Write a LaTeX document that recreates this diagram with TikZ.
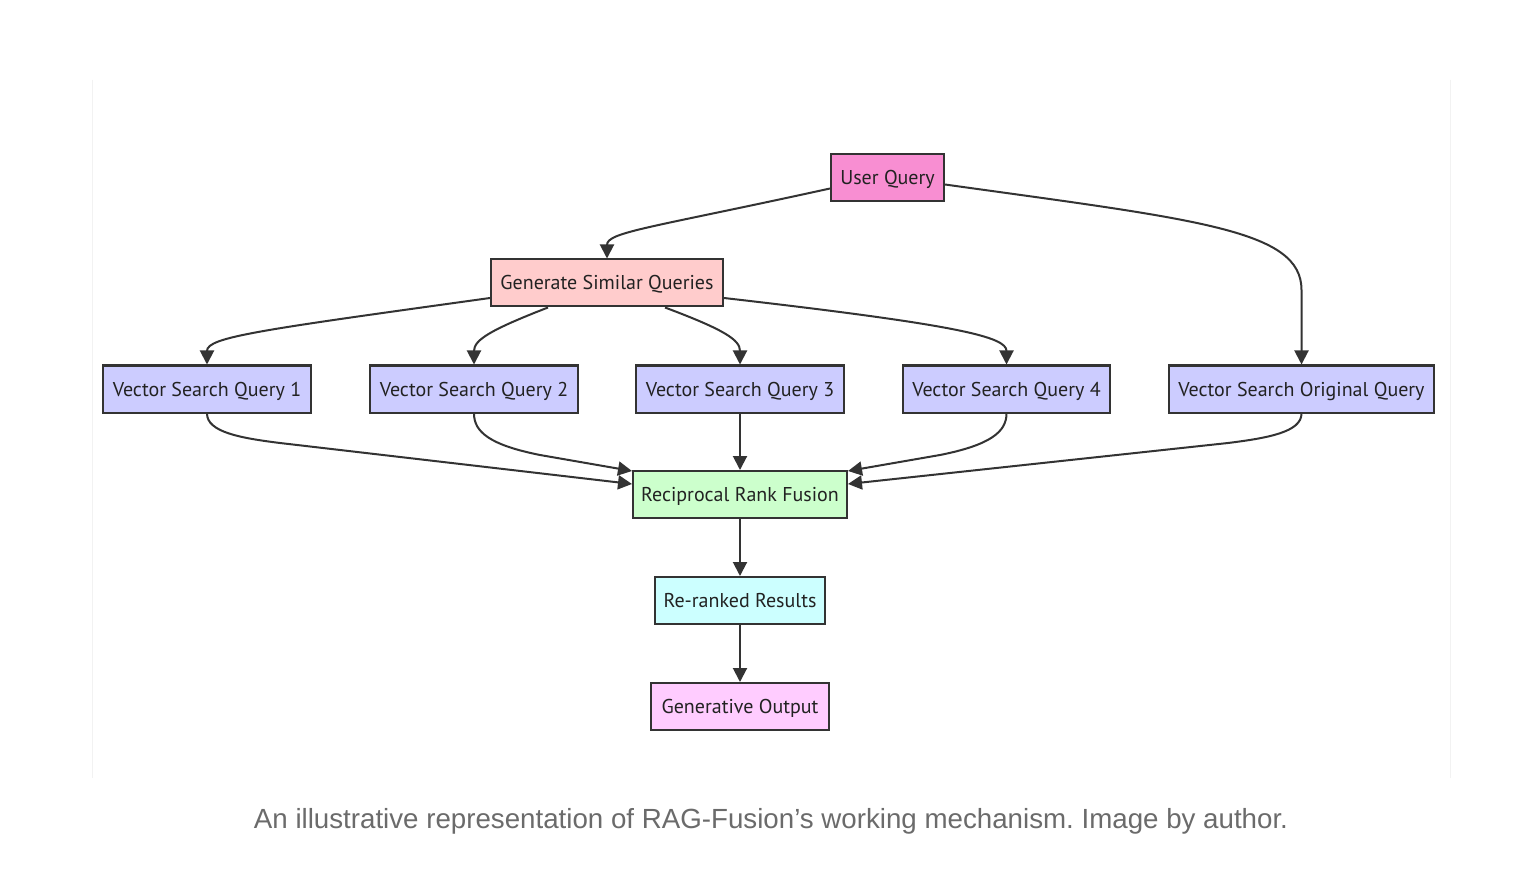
\documentclass[tikz,border=0pt]{standalone}
\usepackage{fontspec}
\setmainfont{PT Sans}
\newfontfamily\capfont{Liberation Sans}
\usetikzlibrary{arrows.meta,calc}
\frenchspacing
\definecolor{edgec}{RGB}{51,51,51}
\definecolor{textc}{RGB}{34,34,34}
\definecolor{uqc}{RGB}{248,142,210}
\definecolor{gsc}{RGB}{255,204,204}
\definecolor{vsc}{RGB}{204,204,255}
\definecolor{rrfc}{RGB}{204,255,204}
\definecolor{rrc}{RGB}{204,255,255}
\definecolor{goc}{RGB}{255,204,255}
\definecolor{capc}{RGB}{107,107,107}
\definecolor{framec}{RGB}{242,242,242}
\begin{document}
\begin{tikzpicture}[x=1pt,y=-1pt,
  box/.style={draw=edgec,line width=2pt,minimum height=47pt,inner sep=0pt,
    text height=17pt,text depth=3pt,
    font=\fontsize{20}{23}\selectfont,text=textc},
  conn/.style={draw=edgec,line width=2pt,-{Triangle[length=14pt,width=14pt]}}]
\useasboundingbox[fill=white] (0,0) rectangle (1520,874);
\draw[framec,line width=1pt] (92,80) -- (92,778);
\draw[framec,line width=1pt] (1450,80) -- (1450,778);
\node[box,fill=uqc,minimum width=113pt] (uq) at (887.5,177.5) {User Query};
\node[box,fill=gsc,minimum width=232pt] (gsq) at (607,283) {Generate Similar Queries};
\node[box,fill=vsc,minimum width=208pt] (v1) at (207,389) {Vector Search Query 1};
\node[box,fill=vsc,minimum width=208pt] (v2) at (474,389) {Vector Search Query 2};
\node[box,fill=vsc,minimum width=208pt] (v3) at (740,389) {Vector Search Query 3};
\node[box,fill=vsc,minimum width=207pt] (v4) at (1006.5,389) {Vector Search Query 4};
\node[box,fill=vsc,minimum width=265pt] (vo) at (1301.5,389) {Vector Search Original Query};
\node[box,fill=rrfc,minimum width=214pt] (rrf) at (740,494.5) {Reciprocal Rank Fusion};
\node[box,fill=rrc,minimum width=170pt] (rr) at (740,600.5) {Re-ranked Results};
\node[box,fill=goc,minimum width=178pt] (go) at (740,706.5) {Generative Output};
\node[font=\capfont\fontsize{27.7}{32}\selectfont,text=capc] (cap) at (771,821)
  {An illustrative representation of RAG-Fusion’s working mechanism. Image by author.};
% edges from user query
\draw[conn] ($(uq.west)+(0,11)$) .. controls (650,228) and (607,232) .. (gsq.north);
\draw[conn] ($(uq.east)+(0,7)$) .. controls (1200,220) and (1301.5,230) .. (1301.5,290) -- (vo.north);
% edges from generate
\draw[conn] ($(gsq.west)+(0,15)$) .. controls (260,330) and (207,337) .. (v1.north);
\draw[conn] ($(gsq.south)+(-59,0)$) .. controls (490,330) and (474,340) .. (v2.north);
\draw[conn] ($(gsq.south)+(58,0)$) .. controls (725,330) and (740,340) .. (v3.north);
\draw[conn] ($(gsq.east)+(0,15)$) .. controls (960,325) and (1006.5,337) .. (v4.north);
% edges into fusion
\draw[conn] (v1.south) .. controls (207,432) and (240,438) .. (280,443) -- ($(rrf.west)+(0,-10.5)$);
\draw[conn] (v2.south) .. controls (474,432) and (490,445) .. (540,455) -- ($(rrf.north west)+(0,1)$);
\draw[conn] (v3.south) -- (rrf.north);
\draw[conn] (v4.south) .. controls (1006.5,432) and (990,445) .. (940,455) -- ($(rrf.north east)+(0,1)$);
\draw[conn] (vo.south) .. controls (1301.5,432) and (1268,438) .. (1228,443) -- ($(rrf.east)+(0,-10.5)$);
\draw[conn] (rrf.south) -- (rr.north);
\draw[conn] (rr.south) -- (go.north);
\end{tikzpicture}
\end{document}
